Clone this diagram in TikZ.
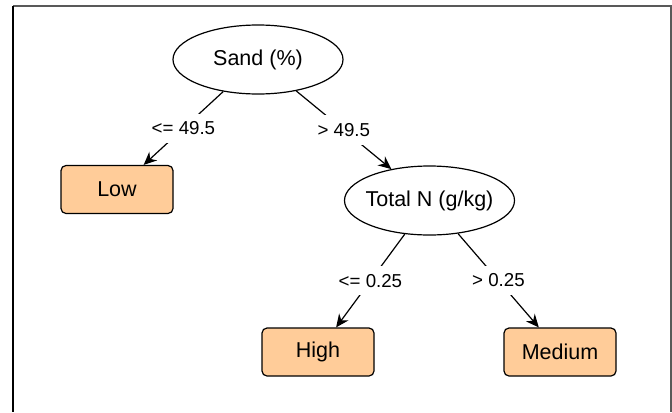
\documentclass[tikz,border=0pt]{standalone}
\usepackage{fontspec}
\setmainfont{Liberation Sans}
\usetikzlibrary{arrows.meta,positioning,shapes.geometric}

\definecolor{leafcol}{HTML}{FFCC99}

\tikzset{
  split/.style={ellipse,draw,line width=0.6pt,minimum width=85pt,minimum height=34.5pt,inner xsep=-3pt,inner ysep=0pt,font=\fontsize{10.75}{12}\selectfont},
  leaf/.style={rectangle,rounded corners=2.5pt,draw,line width=0.6pt,fill=leafcol,minimum width=56pt,minimum height=24pt,inner sep=0pt,font=\fontsize{10.75}{12}\selectfont},
  cond/.style={fill=white,inner xsep=2pt,inner ysep=4pt,font=\fontsize{9.35}{11}\selectfont},
}

\begin{document}
\begin{tikzpicture}[x=0.5pt,y=-0.5pt,on grid,>={Stealth[length=6.5pt,width=5.8pt]}]
\useasboundingbox (0,0) rectangle (672,412);
\draw[line width=0.7pt,black!65] (13,6) -- (671,6) -- (671,412);
\draw[line width=0.7pt] (13,6) -- (13,412);

\node[split] (sand) at (258,59.5) {Sand (\%)};
\node[leaf] (low) [below left = 65pt and 70.5pt of sand] {Low};
\node[split] (totn) [below right = 70.5pt and 85.75pt of sand] {Total N (g/kg)};
\node[leaf] (high) [below left = 75.75pt and 55.75pt of totn] {High};
\node[leaf] (medium) [below right = 75.75pt and 65.25pt of totn] {Medium};

\path[->,line width=0.6pt] (sand) edge node [cond] {<= 49.5} (low)
        edge node [cond] {> 49.5} (totn)
        (totn) edge node [cond] {<= 0.25} (high)
        edge node [cond] {> 0.25} (medium);
\end{tikzpicture}
\end{document}
